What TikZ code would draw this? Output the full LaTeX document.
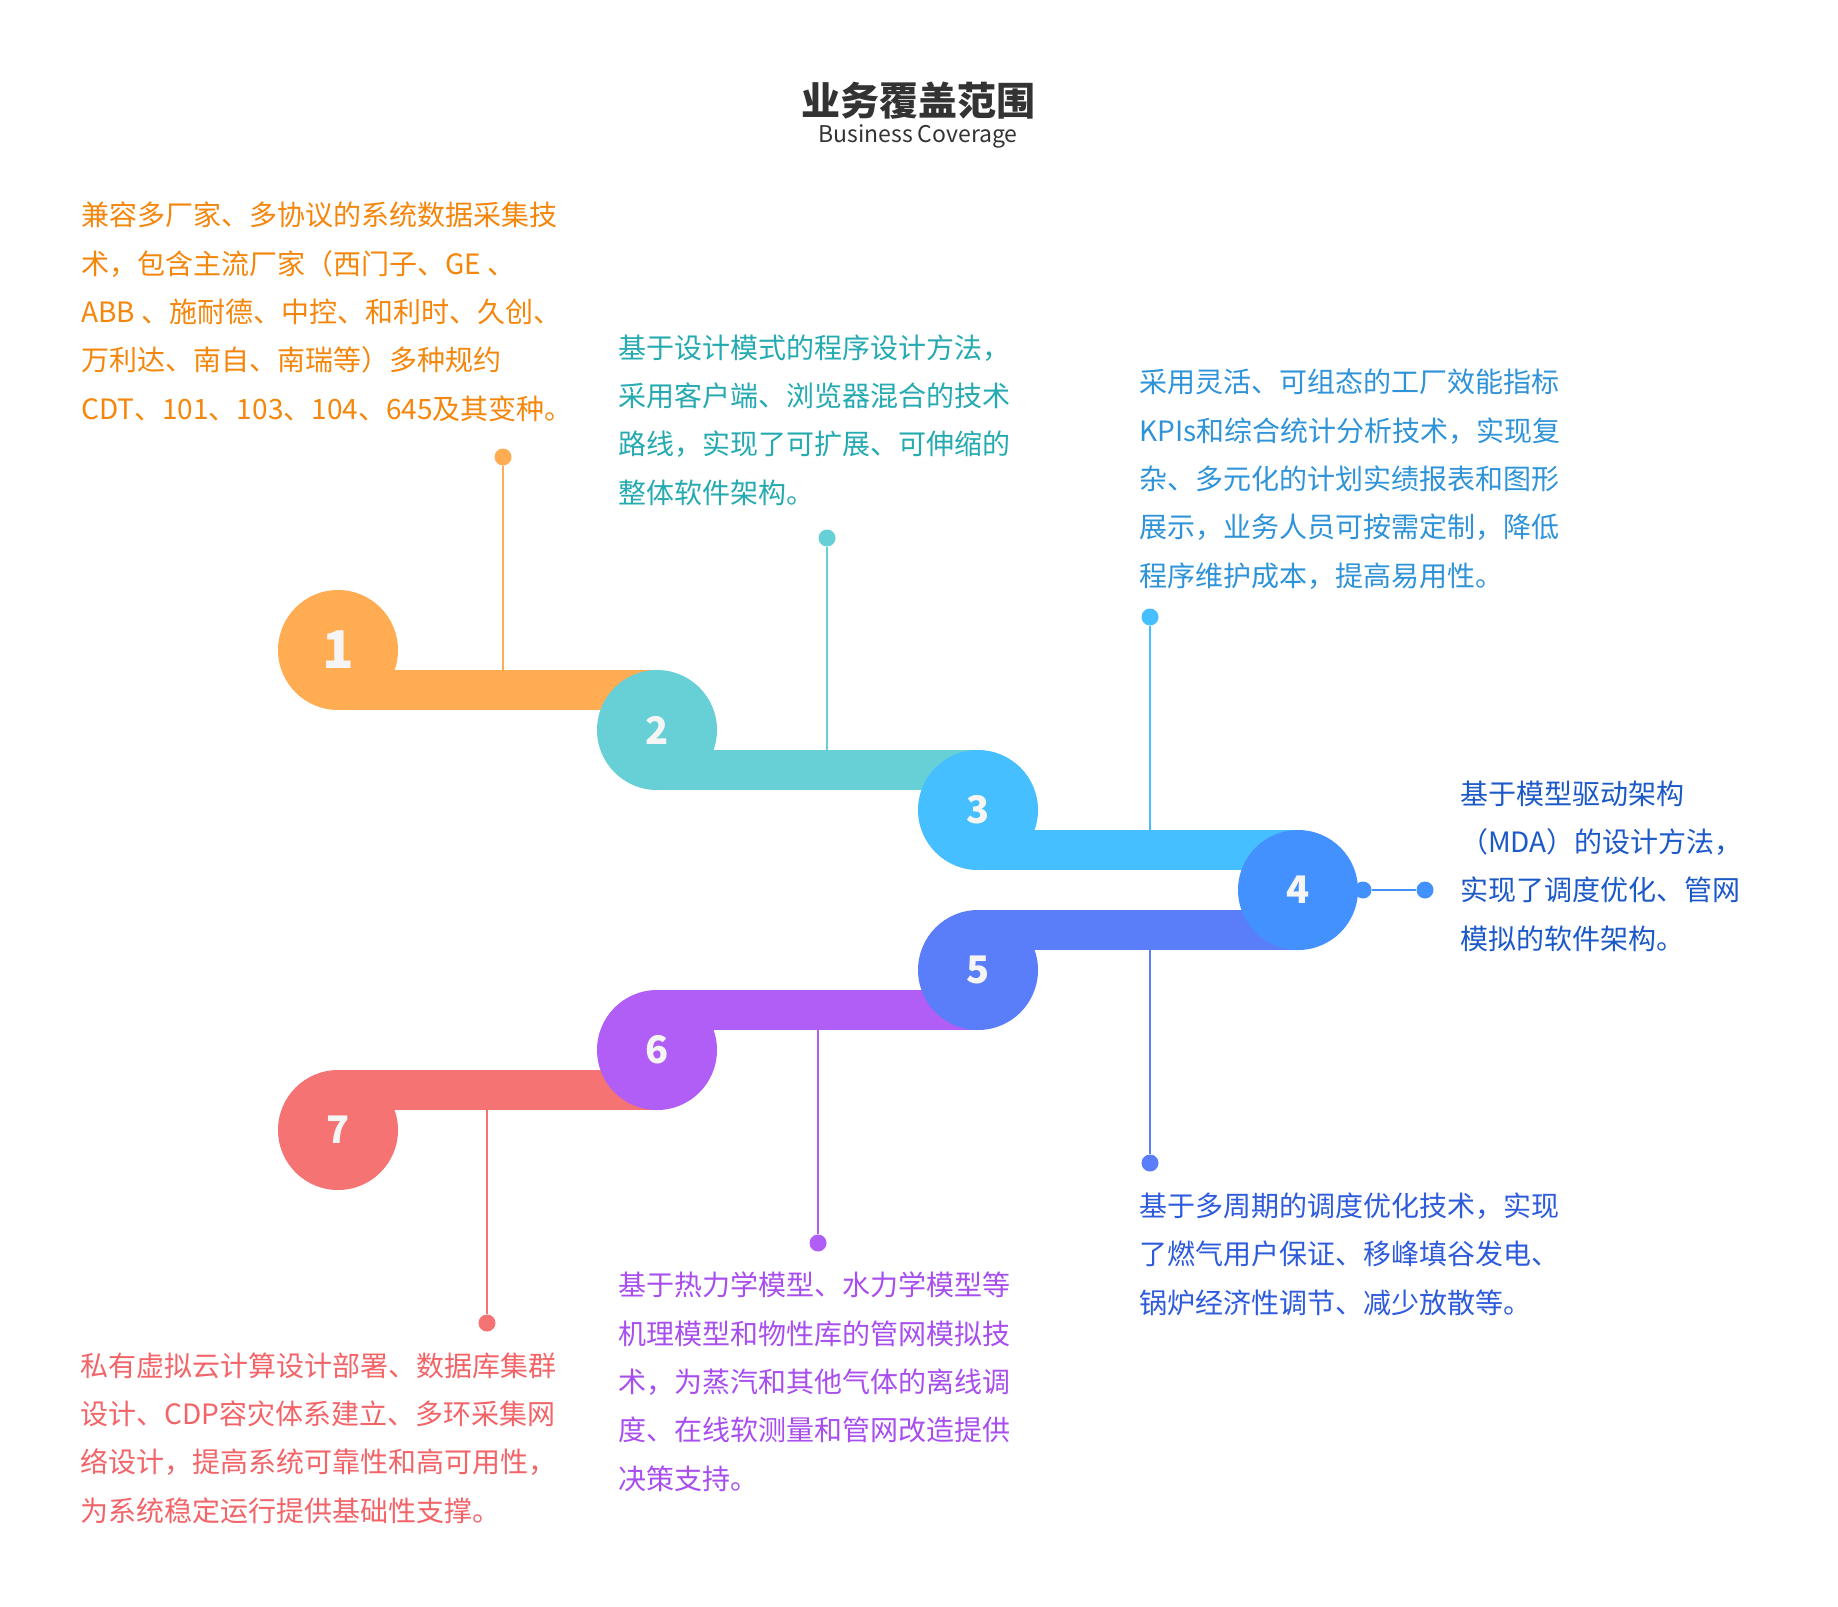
\documentclass[tikz,border=0pt]{standalone}
\usepackage{fontspec}
\newfontfamily\cjk{Noto Sans CJK SC}
\definecolor{oneC}{HTML}{FFAC53}
\definecolor{twoC}{HTML}{67CFD6}
\definecolor{threeC}{HTML}{45BFFF}
\definecolor{fourC}{HTML}{4391FF}
\definecolor{fiveC}{HTML}{5A7EFA}
\definecolor{sixC}{HTML}{B05EF5}
\definecolor{sevenC}{HTML}{F57373}
\definecolor{oneT}{HTML}{F5860C}
\definecolor{twoT}{HTML}{24AAB0}
\definecolor{threeT}{HTML}{2E93D8}
\definecolor{fourT}{HTML}{1C59C8}
\definecolor{fiveT}{HTML}{2E5BDC}
\definecolor{sixT}{HTML}{A94EEE}
\definecolor{sevenT}{HTML}{F26468}
\definecolor{titleG}{HTML}{333333}
\begin{document}
\begin{tikzpicture}[x=1pt,y=-1pt,
    stepdisc/.style={circle,minimum size=120pt,inner sep=0pt,text=white!96!black,
      font=\cjk\bfseries\fontsize{38}{38}\selectfont},
    pindot/.style={circle,minimum size=17pt,inner sep=0pt},
    pin/.style={line width=2pt},
    note/.style={anchor=base west,align=left,inner sep=0pt,
      font=\cjk\fontsize{28}{48.3}\selectfont}]
  \fill [white] (0,0) rectangle (1838,1606);
  \useasboundingbox (0,0) rectangle (1838,1606);
  % title
  \node [font=\cjk\bfseries\fontsize{39}{39}\selectfont,text=titleG] (title) at (918,101) {业务覆盖范围};
  \node [anchor=base,font=\cjk\fontsize{23}{23}\selectfont,text=titleG] (subtitle) at (918,142) {Business Coverage};
  % upper ribbon
  \fill [oneC] (338,670) rectangle (657,710);
  \node [stepdisc,fill=oneC,font=\cjk\bfseries\fontsize{52}{52}\selectfont] (s1) at (338,650) {1};
  \fill [twoC] (657,750) rectangle (978,790);
  \node [stepdisc,fill=twoC] (s2) at (657,730) {2};
  \fill [threeC] (978,830) rectangle (1298,870);
  \node [stepdisc,fill=threeC] (s3) at (978,810) {3};
  % lower ribbon
  \fill [sevenC] (338,1070) rectangle (657,1110);
  \node [stepdisc,fill=sevenC] (s7) at (338,1130) {7};
  \fill [sixC] (657,990) rectangle (978,1030);
  \node [stepdisc,fill=sixC] (s6) at (657,1050) {6};
  \fill [fiveC] (978,910) rectangle (1298,950);
  \node [stepdisc,fill=fiveC] (s5) at (978,970) {5};
  \node [stepdisc,fill=fourC] (s4) at (1298,890) {4};
  % pins
  \coordinate (b1) at (503,670);
  \coordinate (b2) at (827,750);
  \coordinate (b3) at (1150,830);
  \coordinate (b5) at (1150,950);
  \coordinate (b6) at (818,1030);
  \coordinate (b7) at (487,1110);
  \node [pindot,fill=oneC] (d1) at (503,457) {};
  \node [pindot,fill=twoC] (d2) at (827,538) {};
  \node [pindot,fill=threeC] (d3) at (1150,617) {};
  \node [pindot,fill=fourC] (d4a) at (1363,890) {};
  \node [pindot,fill=fourC] (d4b) at (1425,890) {};
  \node [pindot,fill=fiveC] (d5) at (1150,1163) {};
  \node [pindot,fill=sixC] (d6) at (818,1243) {};
  \node [pindot,fill=sevenC] (d7) at (487,1323) {};
  \draw [pin,oneC] (d1) -- (b1);
  \draw [pin,twoC] (d2) -- (b2);
  \draw [pin,threeC] (d3) -- (b3);
  \draw [pin,fourC] (d4a) -- (d4b);
  \draw [pin,fiveC] (b5) -- (d5);
  \draw [pin,sixC] (b6) -- (d6);
  \draw [pin,sevenC] (b7) -- (d7);
  % notes (base = last line)
  \node [note,text=oneT] (t1) at (81,419) {兼容多厂家、多协议的系统数据采集技\\术，包含主流厂家（西门子、GE 、\\ABB 、施耐德、中控、和利时、久创、\\万利达、南自、南瑞等）多种规约\\CDT、101、103、104、645及其变种。};
  \node [note,text=twoT] (t2) at (618,503) {基于设计模式的程序设计方法，\\采用客户端、浏览器混合的技术\\路线，实现了可扩展、可伸缩的\\整体软件架构。};
  \node [note,text=threeT] (t3) at (1139,586) {采用灵活、可组态的工厂效能指标\\KPIs和综合统计分析技术，实现复\\杂、多元化的计划实绩报表和图形\\展示，业务人员可按需定制，降低\\程序维护成本，提高易用性。};
  \node [note,text=fourT] (t4) at (1460,949) {基于模型驱动架构\\（MDA）的设计方法，\\实现了调度优化、管网\\模拟的软件架构。};
  \node [note,text=fiveT] (t5) at (1139,1313) {基于多周期的调度优化技术，实现\\了燃气用户保证、移峰填谷发电、\\锅炉经济性调节、减少放散等。};
  \node [note,text=sixT] (t6) at (618,1489) {基于热力学模型、水力学模型等\\机理模型和物性库的管网模拟技\\术，为蒸汽和其他气体的离线调\\度、在线软测量和管网改造提供\\决策支持。};
  \node [note,text=sevenT] (t7) at (80,1521) {私有虚拟云计算设计部署、数据库集群\\设计、CDP容灾体系建立、多环采集网\\络设计，提高系统可靠性和高可用性，\\为系统稳定运行提供基础性支撑。};
\end{tikzpicture}
\end{document}
